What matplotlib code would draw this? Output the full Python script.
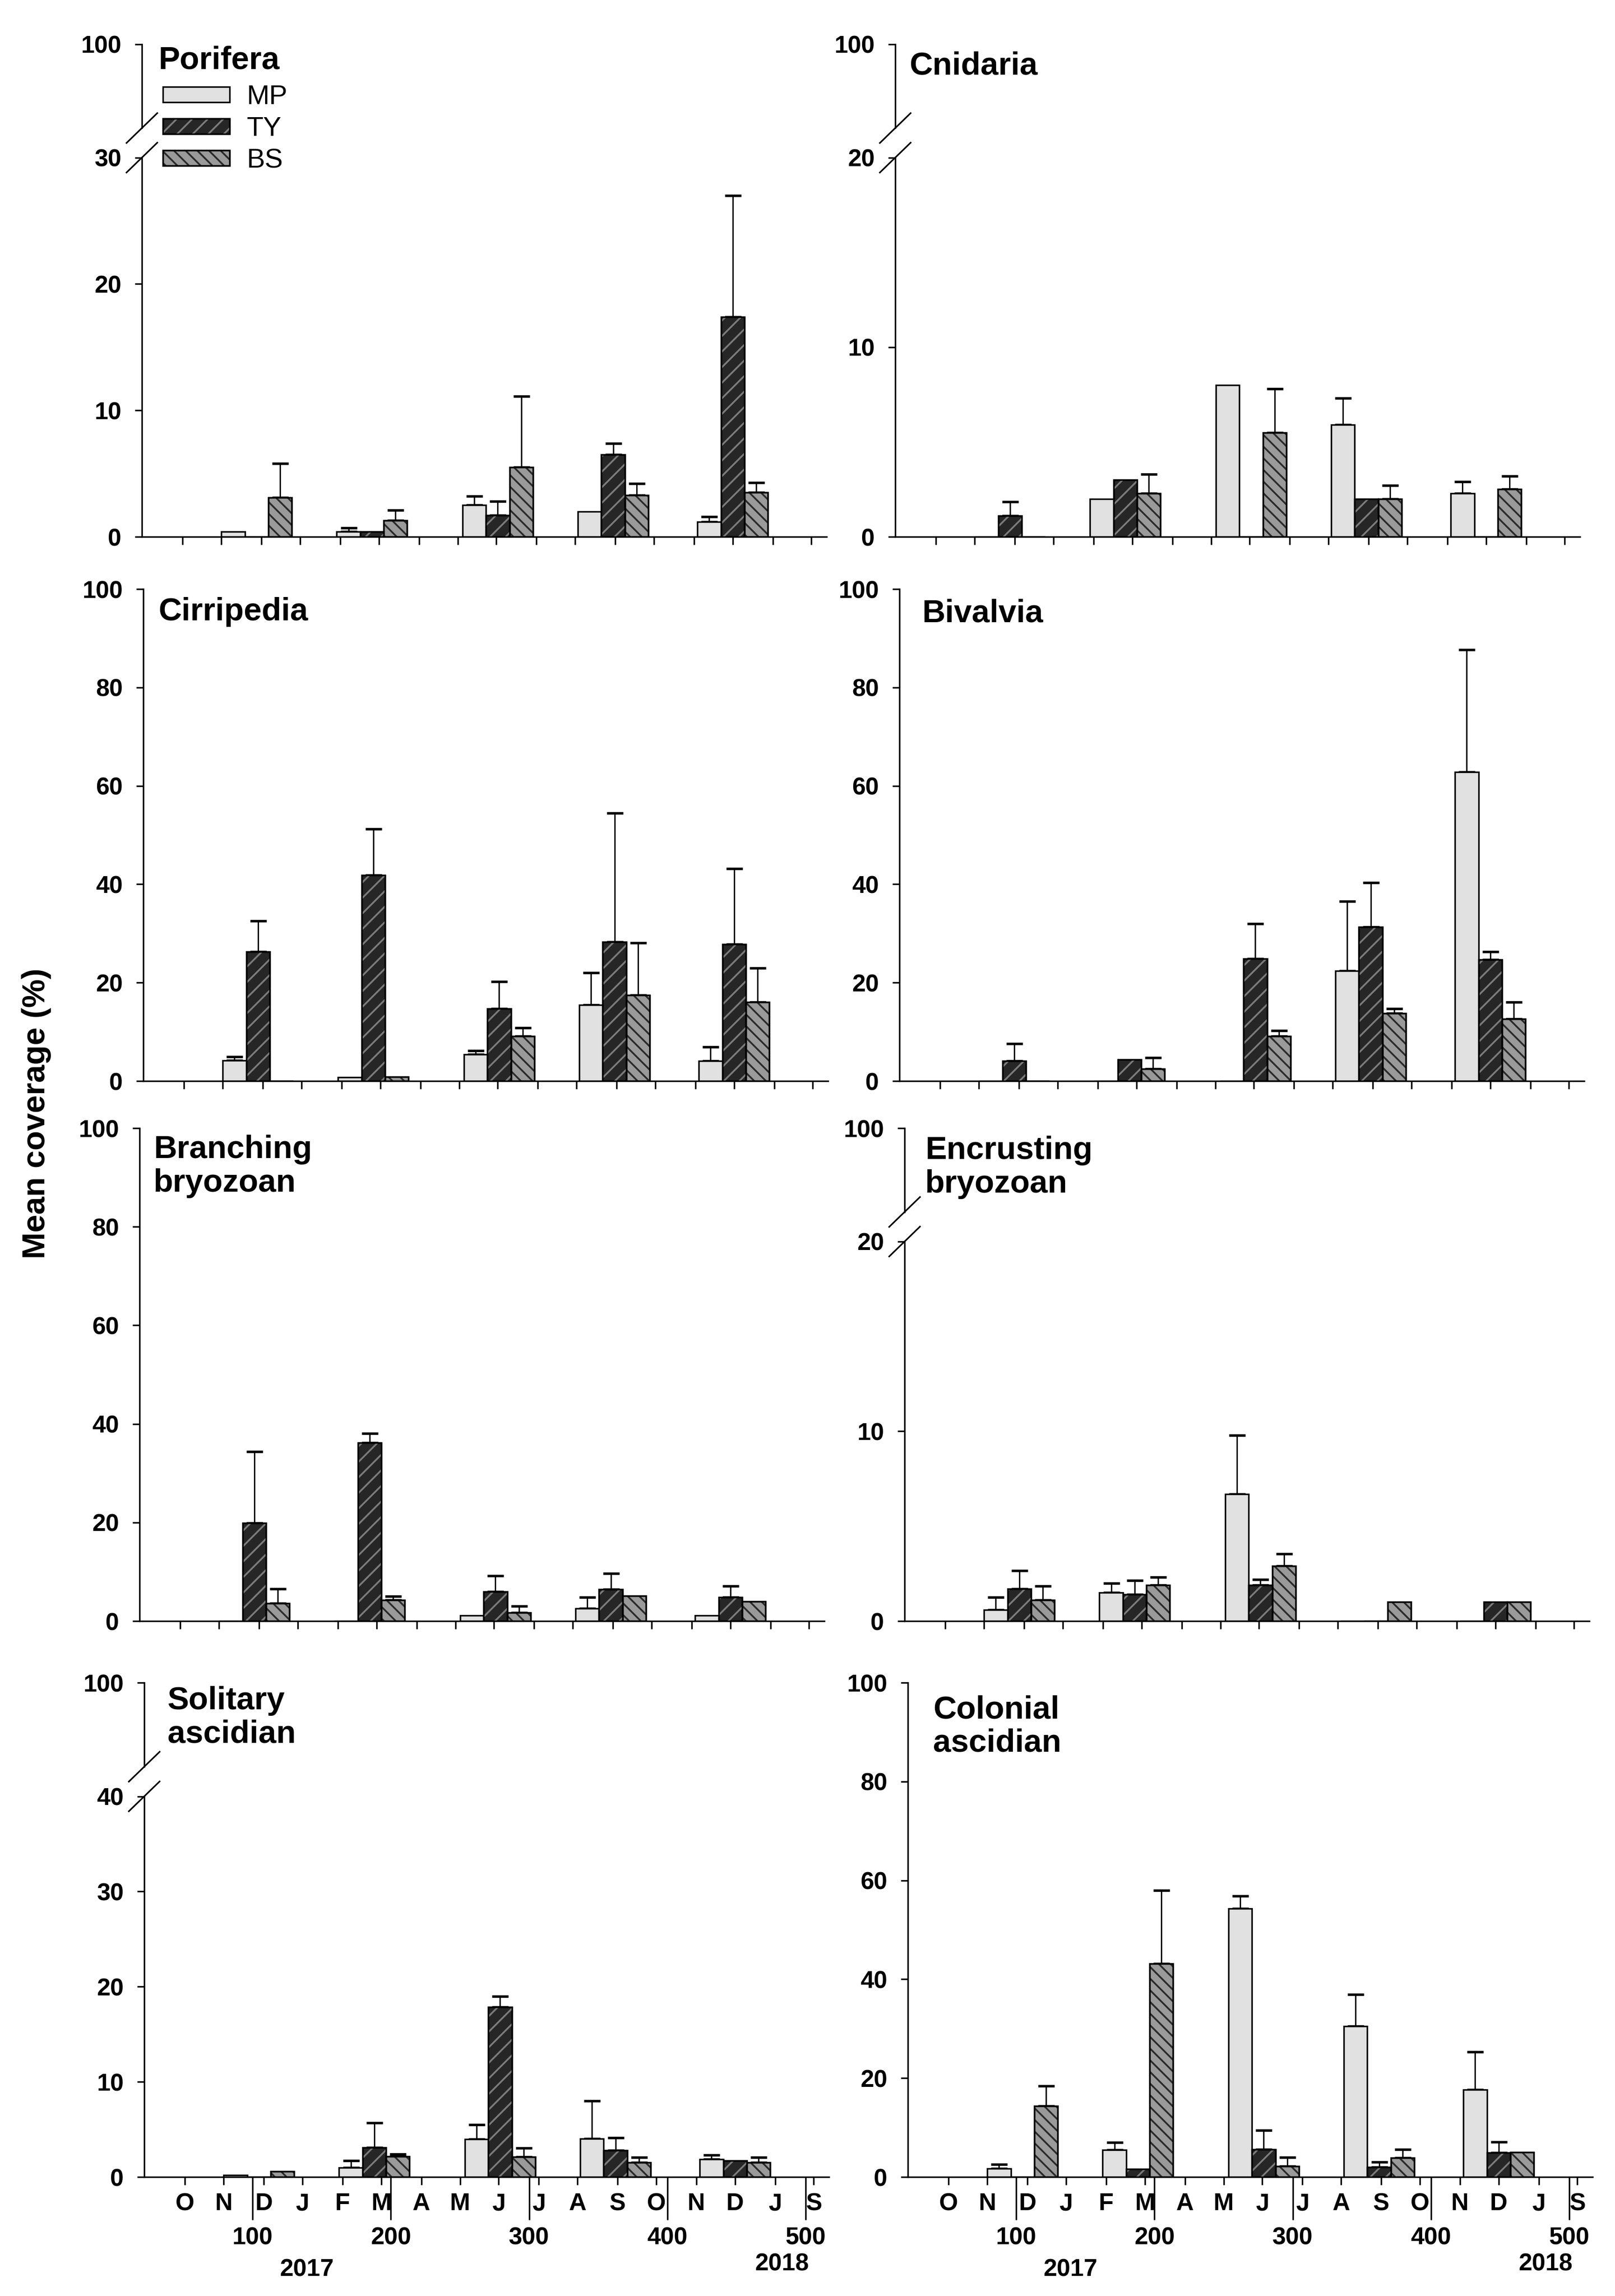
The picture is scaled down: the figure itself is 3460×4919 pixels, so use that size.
import numpy as np
import matplotlib
matplotlib.use('Agg')
import matplotlib.pyplot as plt
from matplotlib.patches import Rectangle

plt.rcParams['font.family'] = ['Liberation Sans', 'DejaVu Sans']
plt.rcParams['font.weight'] = 'bold'
plt.rcParams['hatch.linewidth'] = 0.9

# ---- data (mean coverage % and upper SE) ----
# x position (days) of the TY bar of each sampling; MP left of it, BS right of it
sample_day = [104.5, 188, 279, 362.5, 449]
bar_w = 17

porifera_mp = [0.4, 0.4, 2.5, 2.0, 1.2]
porifera_mp_se = [0, 0.3, 0.7, 0, 0.4]
porifera_ty = [0, 0.4, 1.7, 6.5, 17.4]
porifera_ty_se = [0, 0, 1.1, 0.9, 9.6]
porifera_bs = [3.1, 1.3, 5.5, 3.3, 3.5]
porifera_bs_se = [2.7, 0.8, 5.6, 0.9, 0.8]

cnidaria_mp = [0, 2.0, 8.0, 5.9, 2.3]
cnidaria_mp_se = [0, 0, 0, 1.4, 0.6]
cnidaria_ty = [1.1, 3.0, 0, 2.0, 0]
cnidaria_ty_se = [0.75, 0, 0, 0, 0]
cnidaria_bs = [0, 2.3, 5.5, 2.0, 2.5]
cnidaria_bs_se = [0, 1.0, 2.3, 0.7, 0.7]

cirripedia_mp = [4.2, 0.8, 5.4, 15.5, 4.1]
cirripedia_mp_se = [0.7, 0, 0.8, 6.5, 2.8]
cirripedia_ty = [26.3, 41.8, 14.7, 28.3, 27.8]
cirripedia_ty_se = [6.2, 9.4, 5.5, 26.2, 15.4]
cirripedia_bs = [0, 0.9, 9.1, 17.5, 16.0]
cirripedia_bs_se = [0, 0, 1.7, 10.6, 7.0]

bivalvia_mp = [0, 0, 0, 22.4, 62.8]
bivalvia_mp_se = [0, 0, 0, 14.1, 24.9]
bivalvia_ty = [4.1, 4.4, 24.9, 31.3, 24.7]
bivalvia_ty_se = [3.5, 0, 7.1, 9.0, 1.6]
bivalvia_bs = [0, 2.5, 9.1, 13.8, 12.6]
bivalvia_bs_se = [0, 2.2, 1.1, 0.9, 3.4]

branching_mp = [0, 0, 1.1, 2.6, 1.1]
branching_mp_se = [0, 0, 0, 2.2, 0]
branching_ty = [19.9, 36.2, 6.0, 6.4, 4.8]
branching_ty_se = [14.5, 1.9, 3.2, 3.3, 2.3]
branching_bs = [3.6, 4.3, 1.7, 5.1, 4.0]
branching_bs_se = [2.9, 0.7, 1.3, 0, 0]

encrusting_mp = [0.6, 1.5, 6.7, 0, 0]
encrusting_mp_se = [0.65, 0.5, 3.1, 0, 0]
encrusting_ty = [1.7, 1.4, 1.9, 0, 1.0]
encrusting_ty_se = [0.95, 0.75, 0.3, 0, 0]
encrusting_bs = [1.1, 1.9, 2.9, 1.0, 1.0]
encrusting_bs_se = [0.75, 0.4, 0.65, 0, 0]

solitary_mp = [0.2, 1.0, 3.95, 4.0, 1.85]
solitary_mp_se = [0, 0.7, 1.55, 4.0, 0.45]
solitary_ty = [0, 3.1, 17.85, 2.8, 1.7]
solitary_ty_se = [0, 2.6, 1.15, 1.3, 0]
solitary_bs = [0.6, 2.15, 2.1, 1.5, 1.5]
solitary_bs_se = [0, 0.25, 0.95, 0.55, 0.55]

colonial_mp = [1.7, 5.5, 54.3, 30.5, 17.7]
colonial_mp_se = [0.85, 1.5, 2.5, 6.4, 7.6]
colonial_ty = [0, 1.6, 5.6, 2.0, 4.9]
colonial_ty_se = [0, 0, 3.8, 1.0, 2.2]
colonial_bs = [14.4, 43.2, 2.2, 3.9, 5.0]
colonial_bs_se = [4.0, 14.8, 1.8, 1.7, 0]

month_pos = [51, 79, 108, 136, 165, 193, 222, 250, 278, 307, 335, 364, 392, 421, 449, 478, 506]
month_labels = ['O', 'N', 'D', 'J', 'F', 'M', 'A', 'M', 'J', 'J', 'A', 'S', 'O', 'N', 'D', 'J', 'S']
day_ticks = [100, 200, 300, 400, 500]

sites = ['MP', 'TY', 'BS']
site_fill = ['#e1e1e1', '#262626', '#9a9a9a']
site_hatch = [None, '///', '\\\\\\\\']
site_hcolor = [None, '#7c7c7c', '#2a2a2a']

panels = [
    ('Porifera', porifera_mp, porifera_mp_se, porifera_ty, porifera_ty_se, porifera_bs, porifera_bs_se, 30, [0, 10, 20, 30, 100]),
    ('Cnidaria', cnidaria_mp, cnidaria_mp_se, cnidaria_ty, cnidaria_ty_se, cnidaria_bs, cnidaria_bs_se, 20, [0, 10, 20, 100]),
    ('Cirripedia', cirripedia_mp, cirripedia_mp_se, cirripedia_ty, cirripedia_ty_se, cirripedia_bs, cirripedia_bs_se, None, [0, 20, 40, 60, 80, 100]),
    ('Bivalvia', bivalvia_mp, bivalvia_mp_se, bivalvia_ty, bivalvia_ty_se, bivalvia_bs, bivalvia_bs_se, None, [0, 20, 40, 60, 80, 100]),
    ('Branching\nbryozoan', branching_mp, branching_mp_se, branching_ty, branching_ty_se, branching_bs, branching_bs_se, None, [0, 20, 40, 60, 80, 100]),
    ('Encrusting\nbryozoan', encrusting_mp, encrusting_mp_se, encrusting_ty, encrusting_ty_se, encrusting_bs, encrusting_bs_se, 20, [0, 10, 20, 100]),
    ('Solitary\nascidian', solitary_mp, solitary_mp_se, solitary_ty, solitary_ty_se, solitary_bs, solitary_bs_se, 40, [0, 10, 20, 30, 40, 100]),
    ('Colonial\nascidian', colonial_mp, colonial_mp_se, colonial_ty, colonial_ty_se, colonial_bs, colonial_bs_se, None, [0, 20, 40, 60, 80, 100]),
]

# ---- layout (pixels of the 3460 x 4919 figure) ----
W, H = 3460, 4919
ax_left = [304, 1918, 307, 1927, 299, 1938, 309, 1945]
row_bot = [1150, 2316, 3473, 4664]
row_top = [95, 1262, 2417, 3605]
ax_w = 1467
title_dx = [35, 30, 32, 48, 30, 44, 50, 54]
title_dy = [3, 15, 17, 20, 14, 16, 7, 26]
LO, HI = 0.77, 0.83   # broken axis: lower part ends / upper part starts (axes fraction)


def break_scale(brk):
    def fwd(y):
        y = np.asarray(y, dtype=float)
        return np.where(y <= brk, y / brk * LO, HI + (y - brk) / (100.0 - brk) * (1 - HI))

    def inv(u):
        u = np.asarray(u, dtype=float)
        return np.where(u <= LO, u / LO * brk,
                        np.where(u < HI, brk, brk + (u - HI) / (1 - HI) * (100.0 - brk)))
    return fwd, inv


def draw_site(ax, x, vals, errs, k):
    ax.bar(x, vals, width=bar_w, color=site_fill[k], edgecolor='black', linewidth=0.8, zorder=2)
    if site_hatch[k]:
        ax.bar(x, vals, width=bar_w, fill=False, hatch=site_hatch[k],
               edgecolor=site_hcolor[k], linewidth=0, zorder=3)
        ax.bar(x, vals, width=bar_w, fill=False, edgecolor='black', linewidth=0.8, zorder=4)
    vals = np.array(vals)
    errs = np.array(errs)
    m = errs > 0
    if m.any():
        ax.errorbar(np.array(x)[m], vals[m], yerr=[np.zeros(m.sum()), errs[m]], fmt='none',
                    ecolor='black', elinewidth=0.7, capsize=4.2, capthick=1.3, zorder=1)


fig = plt.figure(figsize=(W / 300, H / 300), dpi=300)

for i, (title, mp, mp_se, ty, ty_se, bs, bs_se, brk, yt) in enumerate(panels):
    row = i // 2
    hpx = row_bot[row] - row_top[row]
    ax = fig.add_axes([ax_left[i] / W, 1 - row_bot[row] / H, ax_w / W, hpx / H])
    if brk is not None:
        ax.set_yscale('function', functions=break_scale(brk))
    ax.set_ylim(0, 100)
    ax.set_xlim(21.5, 517)

    xs = [np.array(sample_day) + d for d in (-bar_w, 0, bar_w)]
    for k, (v, e) in enumerate([(mp, mp_se), (ty, ty_se), (bs, bs_se)]):
        draw_site(ax, xs[k], v, e, k)

    ax.spines['top'].set_visible(False)
    ax.spines['right'].set_visible(False)
    ax.spines['bottom'].set_linewidth(0.8)
    ax.set_yticks(yt)
    ax.set_yticklabels([str(t) for t in yt])
    ax.tick_params(axis='y', direction='out', length=3.5, width=0.8, pad=7, labelsize=12.5)

    if brk is not None:
        ax.spines['left'].set_visible(False)
        ax.plot([0, 0], [0, LO], transform=ax.transAxes, color='black', lw=0.8, clip_on=False)
        ax.plot([0, 0], [HI, 1], transform=ax.transAxes, color='black', lw=0.8, clip_on=False)
        dx = 33 / ax_w
        dy = 32 / hpx
        for yb in (LO, HI):
            ax.plot([-dx, dx], [yb - dy, yb + dy], transform=ax.transAxes, color='black',
                    lw=0.8, clip_on=False)
    else:
        ax.spines['left'].set_linewidth(0.8)

    ax.set_xticks(month_pos, minor=True)
    if row == 3:
        ax.set_xticks(day_ticks)
        ax.set_xticklabels([str(d) for d in day_ticks])
        ax.set_xticklabels(month_labels, minor=True)
        ax.tick_params(axis='x', which='major', direction='out', length=22, width=0.8,
                       pad=3.5, labelsize=12.5)
        ax.tick_params(axis='x', which='minor', direction='out', length=4, width=0.8,
                       pad=4, labelsize=12.5)
        ax.text(139, -199 / hpx, '2017', transform=ax.get_xaxis_transform(),
                ha='center', va='center', fontsize=12.5)
        ax.text(483, -187 / hpx, '2018', transform=ax.get_xaxis_transform(),
                ha='center', va='center', fontsize=12.5)
    else:
        ax.set_xticks([])
        ax.tick_params(axis='x', which='minor', direction='out', length=4, width=0.8,
                       labelbottom=False)

    ax.text(title_dx[i] / ax_w, 1 - title_dy[i] / hpx, title, transform=ax.transAxes,
            ha='left', va='top', fontsize=16.5, fontweight='bold', linespacing=1.15)

    if i == 0:
        handles = []
        for k in range(3):
            base = Rectangle((0, 0), 1, 1, facecolor=site_fill[k], edgecolor='black', linewidth=0.8)
            if site_hatch[k]:
                hat = Rectangle((0, 0), 1, 1, fill=False, hatch=site_hatch[k],
                                edgecolor=site_hcolor[k], linewidth=0)
                edge = Rectangle((0, 0), 1, 1, fill=False, edgecolor='black', linewidth=0.8)
                handles.append((base, hat, edge))
            else:
                handles.append(base)
        ax.legend(handles, sites, loc='upper left', bbox_to_anchor=(45 / ax_w, 1 - 86 / hpx),
                  frameon=False, borderpad=0, borderaxespad=0, handlelength=2.45,
                  handleheight=0.5, handletextpad=0.63, labelspacing=0.24,
                  prop={'size': 14, 'weight': 'normal'})

fig.text(0.0225, 0.515, 'Mean coverage (%)', rotation=90, ha='center', va='center',
         fontsize=16.5, fontweight='bold')

fig.savefig('out.png', dpi=300)
